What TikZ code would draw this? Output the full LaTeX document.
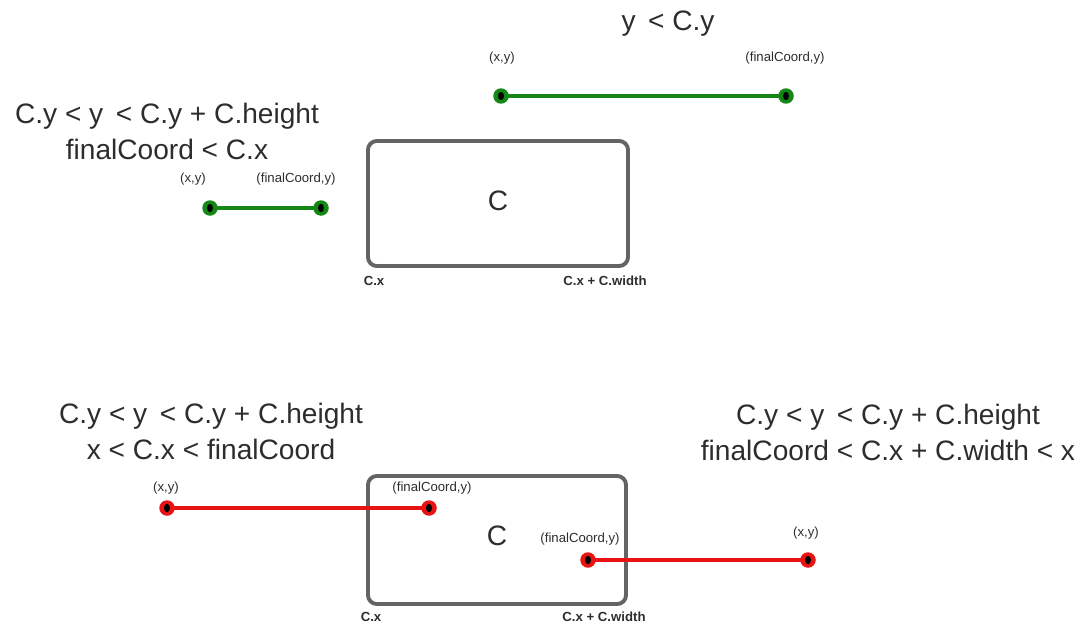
\documentclass[tikz,border=0pt]{standalone}
\usepackage{fontspec}
\setmainfont{Liberation Sans}
\usetikzlibrary{calc}

\definecolor{segGreen}{RGB}{20,135,20}
\definecolor{segRed}{RGB}{232,20,20}
\definecolor{boxGray}{RGB}{100,100,100}
\definecolor{txtGray}{RGB}{45,45,45}

\tikzset{
  rect/.style={draw=boxGray, line width=2.2pt, rounded corners=5pt},
  big/.style={font=\fontsize{16}{20.5}\selectfont, text=txtGray, align=center, inner sep=0pt},
  pt/.style={font=\fontsize{7.5}{9}\selectfont, text=txtGray, inner sep=0pt},
  corner/.style={font=\bfseries\fontsize{7.5}{9}\selectfont, text=txtGray, inner sep=0pt},
  seg/.style={line width=2.2pt}
}
% dot at an end of a segment
\newcommand{\segdot}[2]{%
  \fill[#1] (#2) circle (0.155cm);
  \fill[black] (#2) ellipse (0.06cm and 0.085cm);
}

\begin{document}
\begin{tikzpicture}[x=0.02cm, y=-0.02cm]
  \useasboundingbox (0,0) rectangle (1085,622);

  % upper rectangle C
  \coordinate (A) at (368,141);
  \coordinate (B) at (628,266);
  \draw[rect] (A) rectangle (B);
  \node[font=\fontsize{16}{20}\selectfont, text=txtGray] (cTop) at (498,201) {C};
  \node[corner] (cxTop) at (374,281) {C.x};
  \node[corner] (cwTop) at (605,281) {C.x + C.width};

  % segment above
  \node[big] (condA) at (668,24) {y\, < C.y};
  \coordinate (P1) at (501,96);
  \coordinate (Q1) at (786,96);
  \draw[segGreen, seg] (P1) -- (Q1);
  \segdot{segGreen}{P1}
  \segdot{segGreen}{Q1}
  \node[pt] (p1) at (502,58) {(x,y)};
  \node[pt] (q1) at (785,58) {(finalCoord,y)};

  % segment left of C
  \node[big] (condB) at (167,131) {C.y < y\, < C.y + C.height\\finalCoord < C.x};
  \coordinate (P2) at (210,208);
  \coordinate (Q2) at (321,208);
  \draw[segGreen, seg] (P2) -- (Q2);
  \segdot{segGreen}{P2}
  \segdot{segGreen}{Q2}
  \node[pt] (p2) at (193,179) {(x,y)};
  \node[pt] (q2) at (296,179) {(finalCoord,y)};

  % lower rectangle C
  \coordinate (D) at (368,476);
  \coordinate (E) at (626,604);
  \draw[rect] (D) rectangle (E);
  \node[font=\fontsize{16}{20}\selectfont, text=txtGray] (cBot) at (497,536) {C};
  \node[corner] (cxBot) at (371,617) {C.x};
  \node[corner] (cwBot) at (604,617) {C.x + C.width};

  % segment crossing left side
  \node[big] (condC) at (211,431) {C.y < y\, < C.y + C.height\\x < C.x < finalCoord};
  \coordinate (P3) at (167,508);
  \coordinate (Q3) at (429,508);
  \draw[segRed, seg] (P3) -- (Q3);
  \segdot{segRed}{P3}
  \segdot{segRed}{Q3}
  \node[pt] (p3) at (166,488) {(x,y)};
  \node[pt] (q3) at (432,488) {(finalCoord,y)};

  % segment crossing right side
  \node[big] (condD) at (888,432) {C.y < y\, < C.y + C.height\\finalCoord < C.x + C.width < x};
  \coordinate (P4) at (808,560);
  \coordinate (Q4) at (588,560);
  \draw[segRed, seg] (Q4) -- (P4);
  \segdot{segRed}{P4}
  \segdot{segRed}{Q4}
  \node[pt] (p4) at (806,533) {(x,y)};
  \node[pt] (q4) at (580,539) {(finalCoord,y)};
\end{tikzpicture}
\end{document}
